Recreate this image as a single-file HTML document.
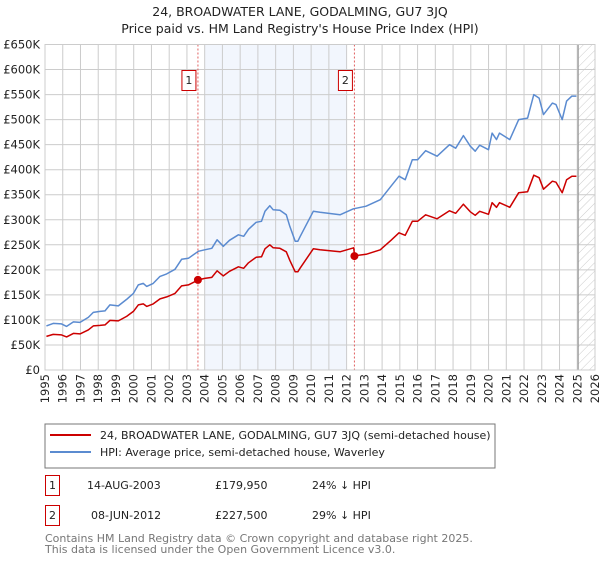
<!DOCTYPE html>
<html><head><meta charset="utf-8"><style>
body{margin:0;background:#fff;font-family:"DejaVu Sans","Liberation Sans",sans-serif;}
svg text{font-family:"DejaVu Sans","Liberation Sans",sans-serif;}
</style></head><body>
<svg id="chart" width="600" height="560" viewBox="0 0 600 560">
<defs><pattern id="hatch" width="6" height="6" patternUnits="userSpaceOnUse" patternTransform="rotate(45)"><line x1="0" y1="0" x2="0" y2="6" stroke="#ccc" stroke-width="1"/></pattern></defs>
<text x="300" y="16" text-anchor="middle" font-size="12.5" fill="#222">24, BROADWATER LANE, GODALMING, GU7 3JQ</text>
<text x="300" y="33" text-anchor="middle" font-size="12.5" fill="#222">Price paid vs. HM Land Registry's House Price Index (HPI)</text>
<g id="plot"></g>
<rect x="45" y="424" width="450" height="44" fill="#fff" stroke="#777"/>
<line x1="50" y1="435" x2="91" y2="435" stroke="#cc0000" stroke-width="2"/>
<text x="100" y="439" font-size="11" fill="#222">24, BROADWATER LANE, GODALMING, GU7 3JQ (semi-detached house)</text>
<line x1="50" y1="452" x2="91" y2="452" stroke="#5b8bd0" stroke-width="2"/>
<text x="100" y="456" font-size="11" fill="#222">HPI: Average price, semi-detached house, Waverley</text>
<rect x="45.5" y="475.5" width="14" height="20" fill="#fff" stroke="#cc0000"/>
<text x="52.5" y="489" text-anchor="middle" font-size="11" fill="#222">1</text>
<text x="87" y="489" font-size="11" fill="#222">14-AUG-2003</text>
<text x="215" y="489" font-size="11" fill="#222">£179,950</text>
<text x="312" y="489" font-size="11" fill="#222">24% ↓ HPI</text>
<rect x="45.5" y="505.5" width="14" height="20" fill="#fff" stroke="#cc0000"/>
<text x="52.5" y="519" text-anchor="middle" font-size="11" fill="#222">2</text>
<text x="91" y="519" font-size="11" fill="#222">08-JUN-2012</text>
<text x="215" y="519" font-size="11" fill="#222">£227,500</text>
<text x="312" y="519" font-size="11" fill="#222">29% ↓ HPI</text>
<text x="45" y="542" font-size="11" fill="#777">Contains HM Land Registry data © Crown copyright and database right 2025.</text>
<text x="45" y="553" font-size="11" fill="#777">This data is licensed under the Open Government Licence v3.0.</text>
</svg>
<script>
const hpiYears=[1995.08,1995.46,1995.93,1996.22,1996.6,1996.97,1997.44,1997.72,1998.1,1998.38,1998.66,1999.13,1999.6,1999.98,2000.26,2000.54,2000.73,2001.1,2001.48,2001.86,2002.33,2002.7,2003.08,2003.64,2004.0,2004.4,2004.7,2005.05,2005.4,2005.9,2006.2,2006.47,2006.9,2007.2,2007.4,2007.67,2007.86,2008.24,2008.6,2008.8,2009.1,2009.25,2009.37,2010.12,2010.5,2011.63,2012.38,2013.1,2013.9,2014.5,2014.95,2015.3,2015.7,2016.0,2016.45,2017.1,2017.8,2018.15,2018.58,2018.97,2019.25,2019.5,2020.0,2020.2,2020.45,2020.62,2021.2,2021.7,2022.2,2022.55,2022.85,2023.1,2023.6,2023.8,2024.15,2024.4,2024.7,2024.95];
const hpiValues=[88,93,92,87,96,95,105,115,117,118,130,128,141,153,170,173,167,173,187,192,201,221,223,237,240,243,260,247,259,270,267,281,295,297,317,328,320,319,310,287,257,257,266,317,315,310,322,327,340,367,387,380,420,420,438,427,450,443,468,447,437,449,440,473,460,473,460,500,503,550,543,510,533,530,500,537,547,547];
const redYears=[1995.08,1995.46,1995.93,1996.22,1996.6,1996.97,1997.44,1997.72,1998.1,1998.38,1998.66,1999.13,1999.6,1999.98,2000.26,2000.54,2000.73,2001.1,2001.48,2001.86,2002.33,2002.7,2003.08,2003.64,2004.0,2004.4,2004.7,2005.05,2005.4,2005.9,2006.2,2006.47,2006.9,2007.2,2007.4,2007.67,2007.86,2008.24,2008.6,2008.8,2009.1,2009.25,2009.37,2010.12,2010.5,2011.63,2012.4,2012.45,2013.1,2013.9,2014.5,2014.95,2015.3,2015.7,2016.0,2016.45,2017.1,2017.8,2018.15,2018.58,2018.97,2019.25,2019.5,2020.0,2020.2,2020.45,2020.62,2021.2,2021.7,2022.2,2022.55,2022.85,2023.1,2023.6,2023.8,2024.15,2024.4,2024.7,2024.95];
const redValues=[67,71,70,66,73,72,80,88,89,90,99,98,107,117,130,132,127,132,142,146,153,168,170,180,183,185,198,188,197,206,203,214,225,226,242,250,244,243,236,219,196,196,203,242,240,236,244,228,231,240,259,274,269,297,297,310,302,318,313,331,316,309,317,311,334,325,334,325,354,356,389,384,361,377,375,354,380,387,387];
const saleYears=[2003.62,2012.44];
const saleValues=[179.95,227.5];
const saleLabels=["1","2"];
const yTicks=[0,50,100,150,200,250,300,350,400,450,500,550,600,650];
const yTickLabels=["£0","£50K","£100K","£150K","£200K","£250K","£300K","£350K","£400K","£450K","£500K","£550K","£600K","£650K"];
const xTicks=[1995,1996,1997,1998,1999,2000,2001,2002,2003,2004,2005,2006,2007,2008,2009,2010,2011,2012,2013,2014,2015,2016,2017,2018,2019,2020,2021,2022,2023,2024,2025,2026];
const shadeRange=[2004.0,2012.0];
const forecastStart=2025.05;

const L=45,R=595,T=44.5,B=370,x0=1995,x1=2026,ymax=650;
const X=v=>L+(v-x0)/(x1-x0)*(R-L);
const Y=v=>B-v/ymax*(B-T);
const g=document.getElementById('plot');
const NS='http://www.w3.org/2000/svg';
function mk(tag,attrs){const e=document.createElementNS(NS,tag);for(const k in attrs)e.setAttribute(k,attrs[k]);g.appendChild(e);return e;}
let e;
e=mk('rect',{x:X(shadeRange[0]),y:T,width:X(shadeRange[1])-X(shadeRange[0]),height:B-T,fill:'#eef3fc',opacity:0.75});


e=mk('rect',{x:X(forecastStart),y:T,width:R-X(forecastStart),height:B-T,fill:'url(#hatch)'});


yTicks.forEach((t,i)=>{
 e=mk('line',{x1:L,x2:R,y1:Y(t),y2:Y(t),stroke:'#ccc','stroke-width':1});
 
 
 e=mk('text',{x:40,y:Y(t)+4,'text-anchor':'end','font-size':11.5,fill:'#222'});
 e.textContent=yTickLabels[i];
 
 
});
xTicks.forEach(t=>{
 e=mk('line',{x1:X(t),x2:X(t),y1:T,y2:B,stroke:'#ccc','stroke-width':1});
 
 
 e=mk('text',{x:0,y:0,'text-anchor':'end','font-size':11.5,fill:'#222',transform:`translate(${X(t)+4},374) rotate(-90)`});
 e.textContent=String(t);
 
 
});
e=mk('line',{x1:X(forecastStart),x2:X(forecastStart),y1:T,y2:B,stroke:'#999','stroke-width':1.2});


saleYears.forEach((s,i)=>{
 e=mk('line',{x1:X(s),x2:X(s),y1:T,y2:B,stroke:'#e06060','stroke-width':1,'stroke-dasharray':'2,2'});
 
 
});
function path(xs,ys){return xs.map((v,i)=>(i?'L':'M')+X(v).toFixed(1)+','+Y(ys[i]).toFixed(1)).join('');}
e=mk('path',{d:path(hpiYears,hpiValues),fill:'none',stroke:'#5b8bd0','stroke-width':1.5,'stroke-linejoin':'round'});


e=mk('path',{d:path(redYears,redValues),fill:'none',stroke:'#cc0000','stroke-width':1.5,'stroke-linejoin':'round'});


saleYears.forEach((s,i)=>{
 e=mk('circle',{cx:X(s),cy:Y(saleValues[i]),r:4,fill:'#cc0000'});
 
 
 e=mk('rect',{x:X(s)-16,y:70.5,width:14,height:20,fill:'#fff',stroke:'#cc0000'});
 
 
 e=mk('text',{x:X(s)-9,y:84,'text-anchor':'middle','font-size':11,fill:'#222'});
 e.textContent=saleLabels[i];
 
 
});
e=mk('rect',{x:L,y:T,width:R-L,height:B-T,fill:'none',stroke:'#ccc'});


</script>
</body></html>
